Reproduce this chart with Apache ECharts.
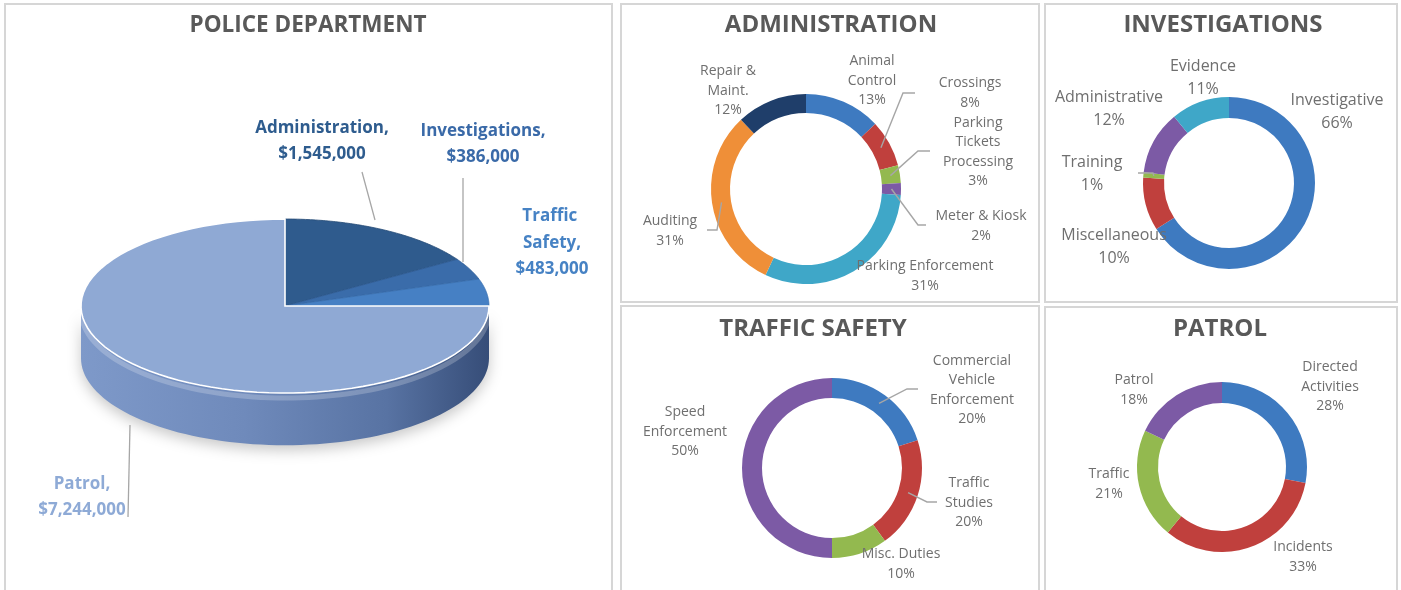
<!DOCTYPE html>
<html>
<head>
<meta charset="utf-8">
<script src="https://cdn.jsdelivr.net/npm/echarts@6/dist/echarts.min.js"></script>
<style>
  html, body { margin: 0; padding: 0; background: #fff; }
  #chart { width: 1401px; height: 590px; }
</style>
</head>
<body>
<div id="chart"></div>
<script>
// department budgets (3D pie on the left)
var deptNames = ['Administration', 'Investigations', 'Traffic Safety', 'Patrol'];
var deptBudget = [1545000, 386000, 483000, 7244000];

// division shares, in percent (line breaks as the labels wrap)
var adminNames = ['Animal\nControl', 'Crossings', 'Parking\nTickets\nProcessing', 'Meter & Kiosk', 'Parking Enforcement', 'Auditing', 'Repair &\nMaint.'];
var adminShare = [13, 8, 3, 2, 31, 31, 12];

var invNames = ['Investigative', 'Miscellaneous', 'Training', 'Administrative', 'Evidence'];
var invShare = [66, 10, 1, 12, 11];

var trafficNames = ['Commercial\nVehicle\nEnforcement', 'Traffic\nStudies', 'Misc. Duties', 'Speed\nEnforcement'];
var trafficShare = [20, 20, 10, 50];

var patrolNames = ['Directed\nActivities', 'Incidents', 'Traffic', 'Patrol'];
var patrolShare = [28, 33, 21, 18];

var BLUE = '#3E7AC0', RED = '#C0403D', GREEN = '#93B94F', PURPLE = '#7C5AA5',
    TEAL = '#3FA7C8', ORANGE = '#EF8F38', NAVY = '#1F3E6A';
var LABEL_GRAY = '#6f6f6f', LINE_GRAY = '#a6a6a6', TITLE_GRAY = '#595959';

// label spots relative to each ring centre; elbow = [dx, dy, endDx] of the leader line
var donuts = [
  {
    names: adminNames, values: adminShare,
    colors: [BLUE, RED, GREEN, PURPLE, TEAL, ORANGE, NAVY],
    center: [806, 189], radius: [76, 95], fontSize: 14, lineHeight: 19.5,
    labelAt: [[66, -108], [164, -96], [172, -37], [175, 37], [119, 87], [-136, 42], [-78, -98]],
    elbow: [null, [97, -96, 109], [112, -38, 124], [112, 36, 120], null, [-89, 41, -99], null]
  },
  {
    names: invNames, values: invShare,
    colors: [BLUE, RED, GREEN, PURPLE, TEAL],
    center: [1229, 183], radius: [65, 86], fontSize: 16, lineHeight: 23,
    labelAt: [[108, -71], [-115, 64], [-137, -9], [-120, -74], [-26, -105]],
    elbow: [null, null, [-76, -10, -91], null, null]
  },
  {
    names: trafficNames, values: trafficShare,
    colors: [BLUE, RED, GREEN, PURPLE],
    center: [832, 468], radius: [70, 90], fontSize: 14, lineHeight: 19.5,
    labelAt: [[140, -78], [137, 35], [69, 96], [-147, -36]],
    elbow: [[75, -79, 86], [95, 34, 105], null, null]
  },
  {
    names: patrolNames, values: patrolShare,
    colors: [BLUE, RED, GREEN, PURPLE],
    center: [1222, 467], radius: [64, 85], fontSize: 14, lineHeight: 19.5,
    labelAt: [[108, -80], [81, 90], [-113, 17], [-88, -77]],
    elbow: [null, null, null, null]
  }
];

function sum(arr) {
  return arr.reduce(function (a, b) { return a + b; }, 0);
}

// point in the middle of the ring at the middle of slice idx (clockwise from 12 o'clock)
function ringMid(d, idx) {
  var total = sum(d.values);
  var before = sum(d.values.slice(0, idx));
  var a = (before + d.values[idx] / 2) / total * Math.PI * 2;
  var r = (d.radius[0] + d.radius[1]) / 2;
  return [d.center[0] + r * Math.sin(a), d.center[1] - r * Math.cos(a)];
}

function donutSeries(d) {
  return {
    type: 'pie',
    silent: true,
    center: d.center,
    radius: d.radius,
    startAngle: 90,
    clockwise: true,
    avoidLabelOverlap: false,
    itemStyle: { borderWidth: 0 },
    label: {
      show: true,
      position: 'outside',
      formatter: '{b}\n{c}%',
      color: LABEL_GRAY,
      fontFamily: 'Open Sans',
      fontSize: d.fontSize,
      lineHeight: d.lineHeight
    },
    labelLine: { show: false },
    labelLayout: function (p) {
      var o = d.labelAt[p.dataIndex];
      return {
        x: d.center[0] + o[0],
        y: d.center[1] + o[1],
        align: 'center',
        verticalAlign: 'middle'
      };
    },
    data: d.values.map(function (v, i) {
      return { name: d.names[i], value: v, itemStyle: { color: d.colors[i] } };
    })
  };
}

// leader lines drawn over the rings (they start inside the slice)
function leaderLines() {
  var out = [];
  donuts.forEach(function (d) {
    d.elbow.forEach(function (e, i) {
      if (!e) return;
      out.push({
        type: 'polyline',
        silent: true,
        z: 10,
        shape: {
          points: [
            ringMid(d, i),
            [d.center[0] + e[0], d.center[1] + e[1]],
            [d.center[0] + e[2], d.center[1] + e[1]]
          ]
        },
        style: { stroke: LINE_GRAY, lineWidth: 1.4, fill: null }
      });
    });
  });
  return out;
}

// 3D pie look
var deptTotal = sum(deptBudget);
var deptTop = ['#2F5B8D', '#3A6CAA', '#4680C4', '#8FA9D4'];
var deptEdge = ['#264b76', '#2f5c94', '#3a70b0', '#ffffff'];
var deptText = ['#2E5C8E', '#3A6AA8', '#4682C4', '#8EAAD6'];
var deptLabelAt = [[37, -165], [198, -162], [267, -63], [-203, 191]];
var deptLabelWidth = [null, null, 80, null];
var deptLine = [
  [[90, -86], [77, -134]],
  [[178, -44], [178, -128]],
  null,
  [[-155, 119], [-157, 211]]
];
var DEPTH = 0.6; // thickness in y-axis units
var STEPS = 80;

function rimPoint(api, a, drop) {
  return api.coord([Math.sin(a), Math.cos(a) - (drop || 0)]);
}

function renderDept(params, api) {
  var i = params.dataIndex;
  var before = sum(deptBudget.slice(0, i));
  var a0 = before / deptTotal * Math.PI * 2;
  var a1 = (before + api.value(0)) / deptTotal * Math.PI * 2;
  var c = api.coord([0, 0]);
  var children = [];
  var k;

  // visible front wall: 3 o'clock round to 9 o'clock
  var s0 = Math.max(a0, Math.PI / 2), s1 = Math.min(a1, Math.PI * 1.5);
  if (s1 > s0) {
    var wall = [], rim = [];
    for (k = 0; k <= STEPS; k++) {
      wall.push(rimPoint(api, s0 + (s1 - s0) * k / STEPS, 0));
      rim.push(rimPoint(api, s0 + (s1 - s0) * k / STEPS, 0));
    }
    for (k = STEPS; k >= 0; k--) {
      wall.push(rimPoint(api, s0 + (s1 - s0) * k / STEPS, DEPTH));
    }
    children.push({
      type: 'polygon',
      z2: 1,
      shape: { points: wall },
      style: {
        fill: new echarts.graphic.LinearGradient(0, 0, 1, 0, [
          { offset: 0, color: '#7e99c9' },
          { offset: 0.4, color: '#6f8abb' },
          { offset: 0.75, color: '#5873a3' },
          { offset: 1, color: '#364d78' }
        ]),
        shadowBlur: 14,
        shadowColor: 'rgba(0,0,0,0.22)',
        shadowOffsetY: 5
      }
    });
    children.push({
      type: 'polyline',
      z2: 2,
      shape: { points: rim.map(function (p) { return [p[0], p[1] + 5]; }) },
      style: { stroke: 'rgba(255,255,255,0.22)', lineWidth: 5, fill: null }
    });
  }

  var top = [c];
  for (k = 0; k <= STEPS; k++) {
    top.push(rimPoint(api, a0 + (a1 - a0) * k / STEPS, 0));
  }
  children.push({
    type: 'polygon',
    z2: 3,
    shape: { points: top },
    style: {
      fill: deptTop[i],
      stroke: deptEdge[i],
      lineWidth: i === 3 ? 1.6 : 0.8
    }
  });

  var o = deptLabelAt[i];
  var textStyle = {
    text: deptNames[i] + ',\n$' + api.value(0).toLocaleString('en-US'),
    fill: deptText[i],
    font: 'bold 17px "Open Sans"',
    lineHeight: 26.5,
    align: 'center',
    verticalAlign: 'middle'
  };
  if (deptLabelWidth[i]) {
    textStyle.width = deptLabelWidth[i];
    textStyle.overflow = 'break';
  }
  children.push({ type: 'text', z2: 6, x: c[0] + o[0], y: c[1] + o[1], style: textStyle });

  if (deptLine[i]) {
    children.push({
      type: 'polyline',
      z2: 5,
      shape: { points: deptLine[i].map(function (p) { return [c[0] + p[0], c[1] + p[1]]; }) },
      style: { stroke: LINE_GRAY, lineWidth: 1.3, fill: null }
    });
  }
  return { type: 'group', children: children };
}

function panel(x, y, w, h) {
  return {
    type: 'rect',
    silent: true,
    z: -1,
    shape: { x: x, y: y, width: w, height: h },
    style: { fill: '#ffffff', stroke: '#d6d6d6', lineWidth: 2 }
  };
}

function heading(text, x, y, size) {
  return {
    type: 'text',
    silent: true,
    x: x,
    y: y,
    style: {
      text: text,
      fill: TITLE_GRAY,
      font: 'bold ' + size + 'px "Open Sans"',
      align: 'center',
      verticalAlign: 'middle'
    }
  };
}

var chart = echarts.init(document.getElementById('chart'), null, { renderer: 'canvas' });

chart.setOption({
  animation: false,
  backgroundColor: '#ffffff',
  graphic: [
    panel(5, 4, 607, 600),
    panel(621, 4, 418, 298),
    panel(1045, 4, 352, 298),
    panel(621, 306, 418, 300),
    panel(1045, 307, 352, 300),
    heading('POLICE DEPARTMENT', 308, 26, 22.5),
    heading('ADMINISTRATION', 831, 25, 24),
    heading('INVESTIGATIONS', 1223, 25, 24),
    heading('TRAFFIC SAFETY', 813, 329, 24),
    heading('PATROL', 1220, 329, 24)
  ].concat(leaderLines()),
  grid: { left: 81, top: 219, width: 408, height: 174 },
  xAxis: { type: 'value', min: -1, max: 1, show: false },
  yAxis: { type: 'value', min: -1, max: 1, show: false },
  series: [
    {
      type: 'custom',
      coordinateSystem: 'cartesian2d',
      silent: true,
      clip: false,
      renderItem: renderDept,
      data: deptBudget.map(function (v) { return [v]; })
    }
  ].concat(donuts.map(donutSeries))
});
</script>
</body>
</html>
